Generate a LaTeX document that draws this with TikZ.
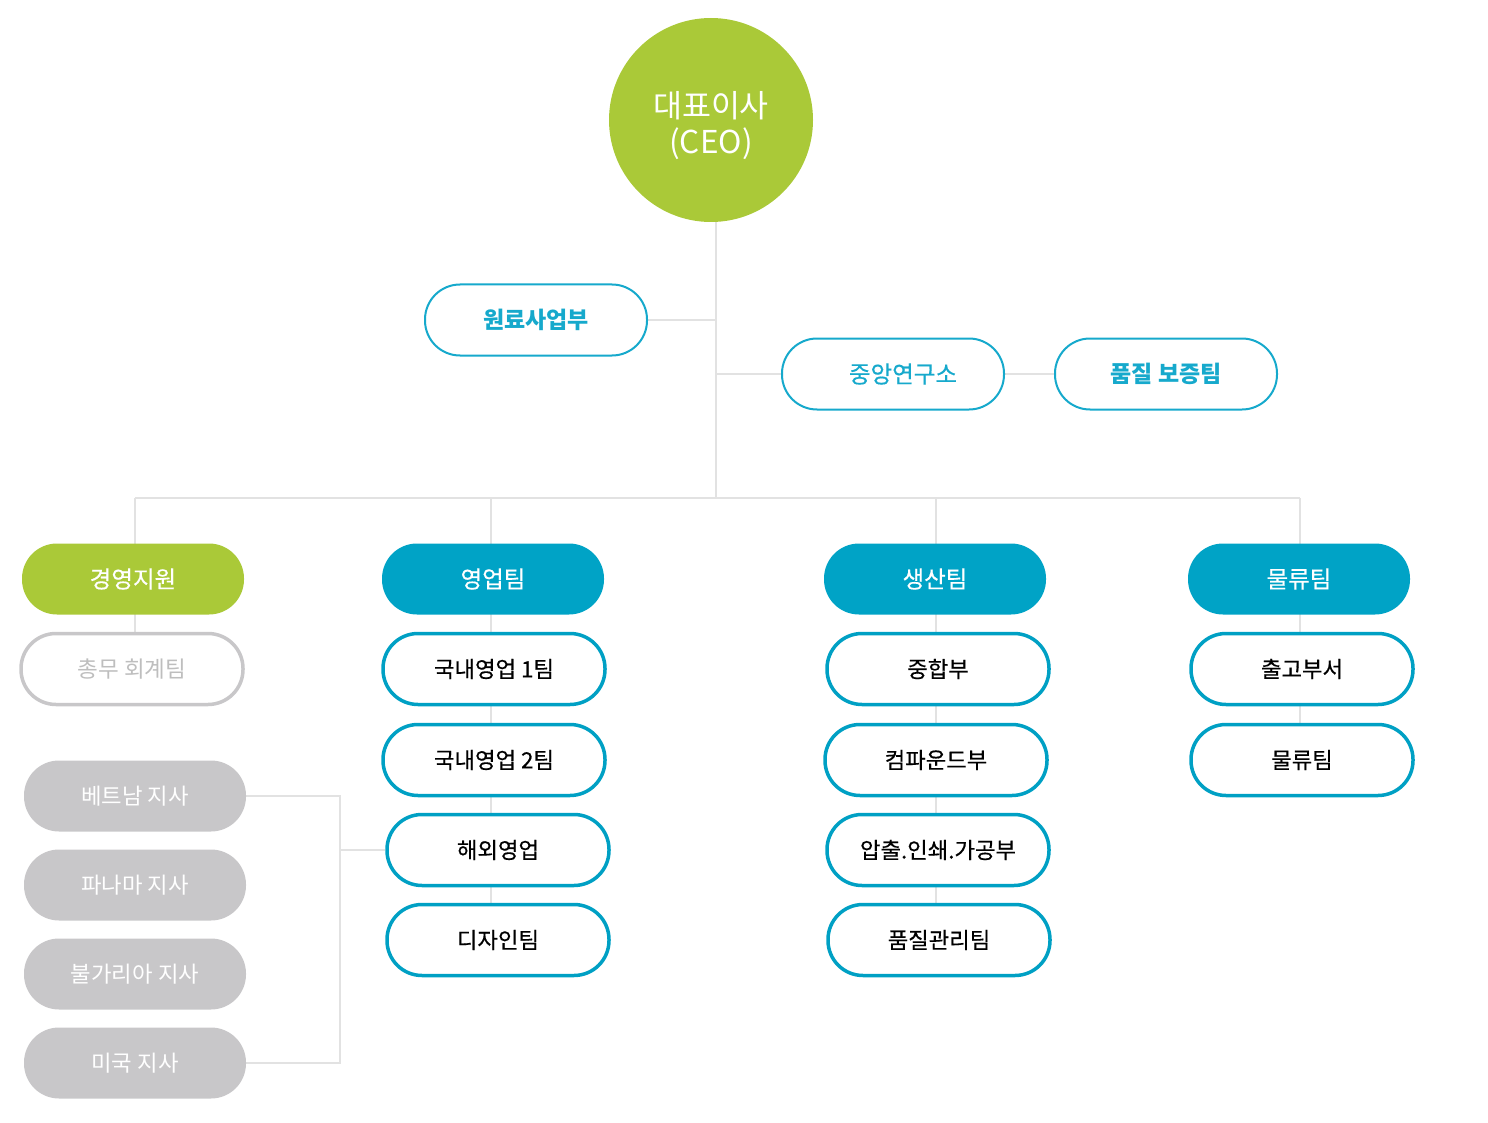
\documentclass[tikz,border=0pt]{standalone}
\usepackage{fontspec}
\setmainfont{Noto Sans CJK KR}
\newfontfamily\krmed[FakeBold=0.5]{Noto Sans CJK KR}
\newfontfamily\krlight{Noto Sans CJK KR}
\pgfdeclarelayer{background}
\pgfsetlayers{background,main}
\definecolor{ceogreen}{RGB}{170,201,56}
\definecolor{headblue}{RGB}{0,163,198}
\definecolor{topcyan}{RGB}{22,169,204}
\definecolor{subcyan}{RGB}{0,160,196}
\definecolor{branchgray}{RGB}{200,199,201}
\definecolor{linegray}{RGB}{226,226,226}
\definecolor{palegray}{RGB}{190,190,190}
\begin{document}
\begin{tikzpicture}[x=1pt,y=-1pt,
  conn/.style={draw=linegray,line width=1.5pt},
  pill/.style={rectangle,rounded corners=35pt,minimum width=222pt,minimum height=71pt,inner sep=0pt},
  topbox/.style={pill,draw=topcyan,line width=2pt,fill=white,text=topcyan,font=\fontsize{23}{27}\selectfont\bfseries},
  topboxlight/.style={pill,draw=topcyan,line width=2pt,fill=white,text=topcyan,font=\fontsize{23.5}{27}\selectfont\krmed},
  headbox/.style={pill,fill=headblue,text=white,font=\fontsize{23.5}{27}\selectfont\krmed},
  greenbox/.style={pill,fill=ceogreen,text=white,font=\fontsize{23.5}{27}\selectfont\krmed},
  subbox/.style={pill,draw=subcyan,line width=3.5pt,fill=white,text=black,font=\fontsize{22.3}{27}\selectfont\krmed},
  palebox/.style={pill,draw=branchgray,line width=3.5pt,fill=white,text=palegray,font=\fontsize{22.5}{27}\selectfont\krlight},
  graybox/.style={pill,fill=branchgray,text=white,font=\fontsize{22.3}{27}\selectfont\krlight}]
\useasboundingbox (0,0) rectangle (1488,1123);
% CEO
\node[circle,fill=ceogreen,minimum size=204pt,inner sep=0pt] (ceo) at (711,120) {};
\node[text=white,align=center,font=\fontsize{31.5}{36}\selectfont\krlight] (ceotxt) at (711,126) {대표이사\\(CEO)};
% upper staff
\node[topbox] (won) at (536,320) {원료사업부};
\node[topboxlight] (jung) at (893,374) {\hspace*{20pt}중앙연구소};
\node[topbox] (pum) at (1166,374) {품질 보증팀};
% coordinates
\coordinate (hub) at (716,498);
\coordinate (bL) at (135,498);
\coordinate (bS) at (491,498);
\coordinate (bP) at (936,498);
\coordinate (bR) at (1300,498);
\coordinate (brx) at (340,850);
% management column
\node[greenbox] (gy) at (133,579) {경영지원};
\node[palebox] (ch) at (132,669) {총무 회계팀};
\node[graybox] (vn) at (135,796) {베트남 지사};
\node[graybox] (pa) at (135,885) {파나마 지사};
\node[graybox] (bg) at (135,974) {불가리아 지사};
\node[graybox] (us) at (135,1063) {미국 지사};
% sales column
\node[headbox] (yt) at (493,579) {영업팀};
\node[subbox] (s1) at (494,669) {국내영업 1팀};
\node[subbox] (s2) at (494,760) {국내영업 2팀};
\node[subbox] (s3) at (498,850) {해외영업};
\node[subbox] (s4) at (498,940) {디자인팀};
% production column
\node[headbox] (pt) at (935,579) {생산팀};
\node[subbox] (p1) at (938,669) {중합부};
\node[subbox] (p2) at (936,760) {컴파운드부};
\node[subbox] (p3) at (938,850) {압출.인쇄.가공부};
\node[subbox] (p4) at (939,940) {품질관리팀};
% logistics column
\node[headbox] (lt) at (1299,579) {물류팀};
\node[subbox] (l1) at (1302,669) {출고부서};
\node[subbox] (l2) at (1302,760) {물류팀};
% connectors
\begin{pgfonlayer}{background}
\draw[conn] (ceo.south -| hub) -- (hub);
\draw[conn] (won.east) -- (won.east -| hub);
\draw[conn] (jung.west -| hub) -- (jung.west);
\draw[conn] (jung.east) -- (pum.west);
\draw[conn] (bL) -- (bR);
\draw[conn] (bL) -- (bL |- ch.center);
\draw[conn] (bS) -- (bS |- s4.center);
\draw[conn] (bP) -- (bP |- p4.center);
\draw[conn] (bR) -- (bR |- l2.center);
\draw[conn] (vn.east) -- (vn.east -| brx) -- (us.east -| brx) -- (us.east);
\draw[conn] (brx) -- (s3.west);
\end{pgfonlayer}
\end{tikzpicture}
\end{document}
